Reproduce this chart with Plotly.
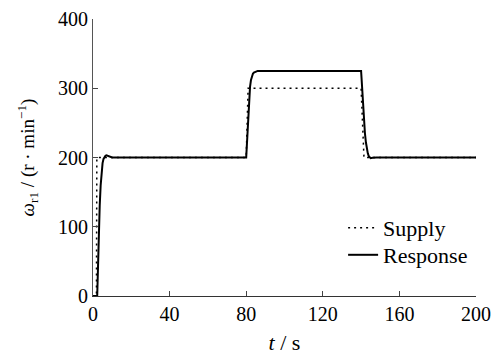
import plotly.graph_objects as go

supply_t = [0, 1.8, 2.0, 80.0, 81.0, 140.0, 141.5, 200]
supply_v = [0, 0, 200, 200, 300, 300, 200, 200]

resp_t = [0, 2.2, 2.6, 3, 3.5, 4, 4.5, 5, 5.5, 6, 6.5, 7, 8, 9, 10, 80, 80.5, 81, 81.5, 82, 82.5, 83, 83.5, 84, 85, 86,
          140, 140.5, 141, 141.5, 142, 142.5, 143, 143.5, 144, 145, 146, 148, 200]
resp_v = [0, 0, 40, 90, 130, 160, 180, 192, 198, 201, 202.5, 203, 202, 200.5, 200, 200, 230, 260, 285, 302, 312, 318, 321, 322.5, 324, 325,
          325, 300, 275, 252, 235, 222, 212, 206, 202, 199, 199.5, 200, 200]

x_ticks = [0, 40, 80, 120, 160, 200]
y_ticks = [0, 100, 200, 300, 400]

font = "'Liberation Serif', 'Times New Roman', serif"

fig = go.Figure()
fig.add_trace(go.Scatter(x=supply_t, y=supply_v, mode="lines", name="Supply", legend="legend",
                         line=dict(color="black", width=1.5, dash="2px,4px")))
fig.add_trace(go.Scatter(x=resp_t, y=resp_v, mode="lines", name="Response", legend="legend2",
                         line=dict(color="black", width=2)))

leg_common = dict(xanchor="left", yanchor="middle", bgcolor="rgba(0,0,0,0)",
                  font=dict(size=22, family=font), itemwidth=30)

fig.update_layout(
    width=500, height=360,
    margin=dict(l=93, r=24, t=19, b=64, autoexpand=False),
    paper_bgcolor="white", plot_bgcolor="white",
    font=dict(family=font, size=20, color="black"),
    showlegend=True,
    legend=dict(x=0.653, y=(296 - 228) / 277, **leg_common),
    legend2=dict(x=0.653, y=(296 - 255) / 277, **leg_common),
    xaxis=dict(range=[0, 200], tickvals=x_ticks, ticks="inside", ticklen=5,
               showline=True, linecolor="#333", linewidth=1, showgrid=False, zeroline=False,
               automargin=False, tickfont=dict(family=font, size=20),
               title=dict(text="<i>t</i> / s", font=dict(size=22, family=font), standoff=10)),
    yaxis=dict(range=[0, 400], tickvals=y_ticks, ticks="inside", ticklen=5,
               showline=True, linecolor="#555", linewidth=1, showgrid=False, zeroline=False,
               automargin=False, tickfont=dict(family=font, size=20),
               title=dict(text="<i>ω</i><sub>r1</sub> / (r · min<sup>−1</sup>)" + "\u00a0" * 6,
                          font=dict(size=19, family=font), standoff=18)),
)

fig.write_html("out.html", post_script="document.body.style.margin='0';",
               config={"displayModeBar": False})
